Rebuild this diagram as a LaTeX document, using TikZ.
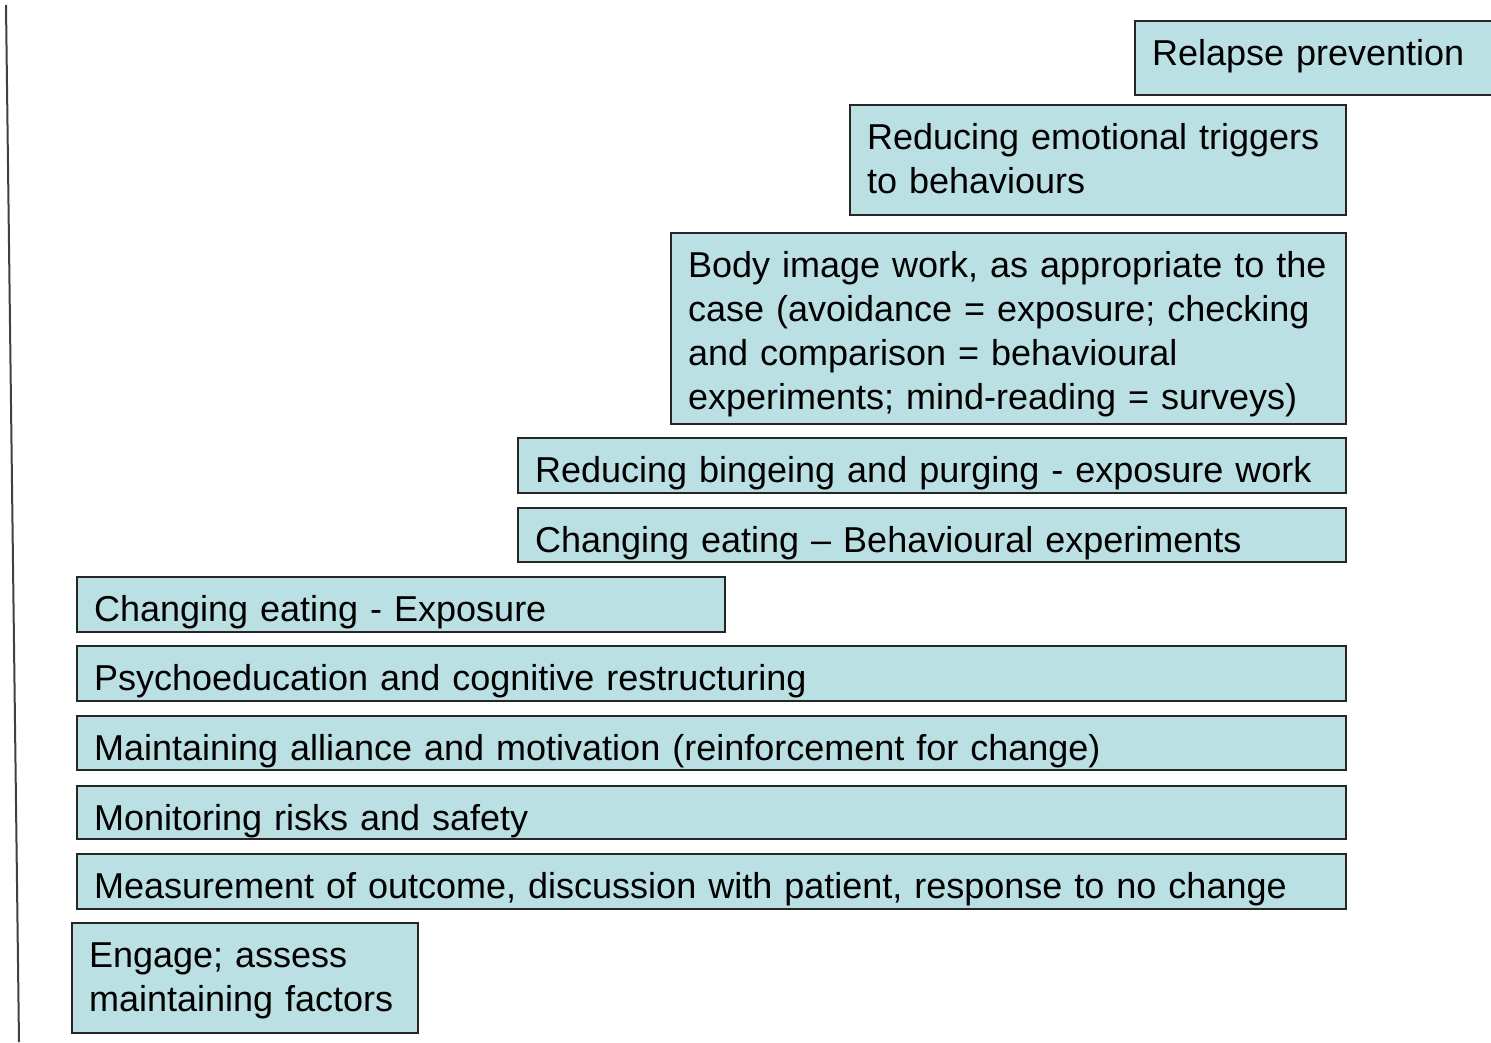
\documentclass[tikz,border=0pt]{standalone}
\usepackage{fontspec}
\setmainfont{Liberation Sans}
\definecolor{stagefill}{RGB}{187,224,227}
\begin{document}
\begin{tikzpicture}[x=1pt,y=-1pt,
    % text hangs from the top edge; #1 is the room left under the first baseline
    stage/.style={draw=black!85, line width=2.2pt, fill=stagefill,
      anchor=north west, align=left, inner xsep=17pt, inner ysep=0pt,
      text height=44pt, text depth=#1,
      font=\fontsize{36}{44}\selectfont}]
  \useasboundingbox (0,0) rectangle (1491,1042);
  % axis on the left
  \draw[line width=2pt, black!75] (6,5) coordinate (top) -- (19,1042) coordinate (bottom);
  % stages, bottom to top
  \node[stage=66pt, text width=312pt] (engage) at (71,922)
    {Engage; assess\\maintaining factors};
  \node[stage=11pt, text width=1235pt] (measure) at (76,853)
    {Measurement of outcome, discussion with patient, response to no change};
  \node[stage=9pt, text width=1235pt] (risk) at (76,785)
    {Monitoring risks and safety};
  \node[stage=10pt, text width=1235pt] (alliance) at (76,715)
    {Maintaining alliance and motivation (reinforcement for change)};
  \node[stage=11pt, text width=1235pt] (psycho) at (76,645)
    {Psychoeducation and cognitive restructuring};
  \node[stage=11pt, text width=614pt] (exposure) at (76,576)
    {Changing eating - Exposure};
  \node[stage=10pt, text width=794pt] (experiments) at (517,507)
    {Changing eating -- Behavioural experiments};
  \node[stage=11pt, text width=794pt] (binge) at (517,437)
    {Reducing bingeing and purging - exposure work};
  \node[stage=147pt, text width=641pt] (body) at (670,232)
    {Body image work, as appropriate to the\\case (avoidance = exposure; checking\\and comparison = behavioural\\experiments; mind-reading = surveys)};
  \node[stage=66pt, text width=462pt] (emotion) at (849,104)
    {Reducing emotional triggers\\to behaviours};
  \node[stage=30pt, text width=346pt] (relapse) at (1134,20)
    {Relapse prevention};
\end{tikzpicture}
\end{document}
